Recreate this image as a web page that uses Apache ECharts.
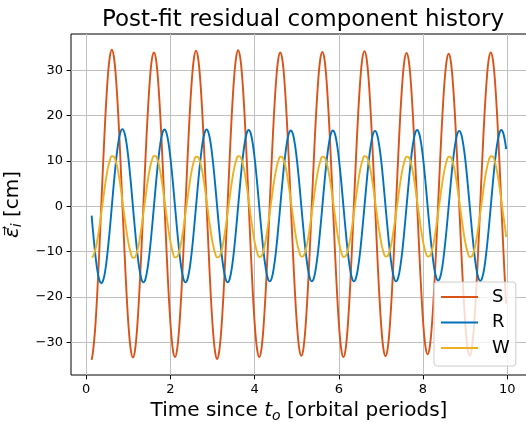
<!DOCTYPE html>
<html>
<head>
<meta charset="utf-8">
<script src="https://cdn.jsdelivr.net/npm/echarts@6/dist/echarts.min.js"></script>
<style>
html,body{margin:0;padding:0;background:#fff;}
#c{width:526px;height:423px;}
</style>
</head>
<body>
<div id="c"></div>
<script>
// Time since t_o [orbital periods]
const tData = [
0.13,
0.16,0.21,0.26,0.31,0.36,0.41,0.46,0.51,0.56,0.61,
0.66,0.71,0.76,0.81,0.86,0.91,0.96,1.01,1.06,1.11,
1.16,1.21,1.26,1.31,1.36,1.41,1.46,1.51,1.56,1.61,
1.66,1.71,1.76,1.81,1.86,1.91,1.96,2.01,2.06,2.11,
2.16,2.21,2.26,2.31,2.36,2.41,2.46,2.51,2.56,2.61,
2.66,2.71,2.76,2.81,2.86,2.91,2.96,3.01,3.06,3.11,
3.16,3.21,3.26,3.31,3.36,3.41,3.46,3.51,3.56,3.61,
3.66,3.71,3.76,3.81,3.86,3.91,3.96,4.01,4.06,4.11,
4.16,4.21,4.26,4.31,4.36,4.41,4.46,4.51,4.56,4.61,
4.66,4.71,4.76,4.81,4.86,4.91,4.96,5.01,5.06,5.11,
5.16,5.21,5.26,5.31,5.36,5.41,5.46,5.51,5.56,5.61,
5.66,5.71,5.76,5.81,5.86,5.91,5.96,6.01,6.06,6.11,
6.16,6.21,6.26,6.31,6.36,6.41,6.46,6.51,6.56,6.61,
6.66,6.71,6.76,6.81,6.86,6.91,6.96,7.01,7.06,7.11,
7.16,7.21,7.26,7.31,7.36,7.41,7.46,7.51,7.56,7.61,
7.66,7.71,7.76,7.81,7.86,7.91,7.96,8.01,8.06,8.11,
8.16,8.21,8.26,8.31,8.36,8.41,8.46,8.51,8.56,8.61,
8.66,8.71,8.76,8.81,8.86,8.91,8.96,9.01,9.06,9.11,
9.16,9.21,9.26,9.31,9.36,9.41,9.46,9.51,9.56,9.61,
9.66,9.71,9.76,9.81,9.86,9.91,9.96,9.975
];

// S component [cm]
const sData = [
-33.9,
-32.3,-27.5,-19.9,-10.3,0.3,10.8,20.4,28.0,32.8,34.5,
32.8,28.0,20.5,11.0,0.6,-9.9,-19.4,-26.9,-31.7,-33.4,
-31.8,-27.0,-19.5,-10.2,0.3,10.7,20.0,27.5,32.3,33.9,
32.3,27.5,20.1,10.7,0.3,-10.1,-19.5,-26.9,-31.7,-33.3,
-31.6,-26.8,-19.4,-9.9,0.5,10.9,20.4,27.8,32.6,34.3,
32.6,27.8,20.3,10.8,0.3,-10.2,-19.7,-27.2,-32.0,-33.7,
-32.0,-27.2,-19.7,-10.2,0.4,10.9,20.4,27.9,32.7,34.4,
32.7,27.9,20.5,11.0,0.6,-9.9,-19.4,-26.8,-31.6,-33.3,
-31.7,-26.9,-19.5,-10.1,0.3,10.7,20.1,27.5,32.3,33.9,
32.3,27.5,20.1,10.8,0.5,-9.9,-19.2,-26.6,-31.4,-33.0,
-31.4,-26.6,-19.2,-9.9,0.5,10.9,20.2,27.6,32.4,34.0,
32.4,27.6,20.1,10.8,0.4,-10.1,-19.4,-26.9,-31.7,-33.3,
-31.7,-26.9,-19.4,-10.0,0.5,10.9,20.3,27.8,32.6,34.2,
32.6,27.8,20.3,11.0,0.6,-9.9,-19.2,-26.7,-31.5,-33.1,
-31.5,-26.7,-19.3,-10.0,0.4,10.7,20.0,27.4,32.2,33.8,
32.2,27.5,20.1,10.8,0.6,-9.7,-19.0,-26.4,-31.1,-32.7,
-31.1,-26.4,-19.0,-9.8,0.5,10.7,19.9,27.3,32.0,33.6,
32.0,27.2,19.9,10.6,0.3,-10.0,-19.3,-26.6,-31.4,-33.0,
-31.4,-26.6,-19.2,-9.9,0.5,10.8,20.1,27.5,32.3,33.9,
32.3,27.5,20.1,10.8,0.5,-9.9,-19.2,-21.5
];

// R component [cm]
const rData = [
-2.1,
-5.3,-10.0,-13.8,-16.2,-17.0,-16.2,-13.8,-10.0,-5.3,0.0,
5.3,10.0,13.8,16.2,17.0,16.2,13.8,10.0,5.3,0.0,
-5.2,-9.9,-13.6,-16.0,-16.8,-16.0,-13.6,-9.9,-5.2,0.0,
5.2,9.9,13.7,16.1,16.9,16.1,13.7,9.9,5.2,0.0,
-5.2,-9.9,-13.6,-16.0,-16.8,-16.0,-13.6,-9.9,-5.2,0.0,
5.2,9.9,13.7,16.1,16.9,16.1,13.7,9.9,5.2,0.0,
-5.2,-9.9,-13.6,-16.0,-16.8,-16.0,-13.6,-9.9,-5.2,0.0,
5.2,9.9,13.6,16.0,16.8,16.0,13.6,9.9,5.2,0.0,
-5.1,-9.8,-13.4,-15.8,-16.6,-15.8,-13.4,-9.8,-5.1,0.0,
5.2,9.8,13.5,15.9,16.7,15.9,13.5,9.8,5.2,0.0,
-5.1,-9.8,-13.4,-15.8,-16.6,-15.8,-13.4,-9.8,-5.1,0.0,
5.2,9.8,13.5,15.9,16.7,15.9,13.5,9.8,5.2,0.0,
-5.1,-9.8,-13.4,-15.8,-16.6,-15.8,-13.4,-9.8,-5.1,0.0,
5.1,9.8,13.4,15.8,16.6,15.8,13.4,9.8,5.1,0.0,
-5.1,-9.8,-13.4,-15.8,-16.6,-15.8,-13.4,-9.8,-5.1,0.0,
5.2,9.9,13.6,16.0,16.8,16.0,13.6,9.9,5.2,0.0,
-5.1,-9.6,-13.3,-15.6,-16.4,-15.6,-13.3,-9.6,-5.1,0.0,
5.1,9.8,13.4,15.8,16.6,15.8,13.4,9.8,5.1,0.0,
-5.1,-9.7,-13.4,-15.7,-16.5,-15.7,-13.4,-9.7,-5.1,0.0,
5.2,9.9,13.6,16.0,16.8,16.0,13.6,12.6
];

// W component [cm]
const wData = [
-11.3,
-11.1,-9.9,-7.8,-4.9,-1.5,2.0,5.3,8.1,10.0,11.0,
10.9,9.7,7.6,4.7,1.2,-2.3,-5.6,-8.4,-10.4,-11.4,
-11.3,-10.0,-7.9,-4.9,-1.5,2.0,5.4,8.2,10.1,11.1,
11.0,9.8,7.6,4.7,1.3,-2.2,-5.5,-8.3,-10.3,-11.3,
-11.2,-10.0,-7.8,-4.9,-1.5,1.9,5.2,8.0,9.9,10.9,
10.8,9.6,7.5,4.6,1.2,-2.3,-5.6,-8.4,-10.3,-11.3,
-11.2,-10.0,-7.8,-4.9,-1.4,2.0,5.3,8.1,10.0,11.0,
10.9,9.7,7.6,4.7,1.3,-2.2,-5.5,-8.3,-10.2,-11.2,
-11.1,-9.9,-7.7,-4.8,-1.4,2.0,5.3,8.0,9.9,10.9,
10.8,9.6,7.5,4.6,1.2,-2.2,-5.5,-8.2,-10.1,-11.1,
-11.0,-9.8,-7.7,-4.8,-1.4,2.0,5.3,8.0,9.9,10.9,
10.8,9.6,7.5,4.7,1.3,-2.2,-5.5,-8.3,-10.2,-11.2,
-11.1,-9.9,-7.8,-4.9,-1.5,2.0,5.3,8.1,10.0,11.0,
10.9,9.7,7.6,4.7,1.3,-2.2,-5.4,-8.2,-10.1,-11.1,
-11.0,-9.8,-7.7,-4.8,-1.5,1.9,5.2,8.0,9.9,10.9,
10.8,9.6,7.5,4.6,1.2,-2.2,-5.5,-8.2,-10.1,-11.1,
-11.0,-9.8,-7.7,-4.8,-1.4,2.0,5.3,8.0,9.9,10.9,
10.8,9.6,7.5,4.6,1.2,-2.2,-5.5,-8.3,-10.2,-11.2,
-11.1,-9.9,-7.8,-4.9,-1.5,1.9,5.3,8.1,10.0,11.0,
10.9,9.7,7.6,4.7,1.3,-2.2,-5.5,-6.8
];

const seriesNames = ['S', 'R', 'W'];
const xTicks = [0, 2, 4, 6, 8, 10];
const yTicks = [-30, -20, -10, 0, 10, 20, 30];

const colors = ['#D95319', '#0072BD', '#EDB120'];
const FONT = 'DejaVu Sans';

function pairs(ys) { return tData.map((t, i) => [t, ys[i]]); }
const allY = [sData, rData, wData];

const chart = echarts.init(document.getElementById('c'), null, {renderer: 'canvas'});
const option = {
  animation: false,
  backgroundColor: '#fff',
  textStyle: {fontFamily: FONT},
  title: {
    text: 'Post-fit residual component history',
    left: 298, top: 4, textAlign: 'center',
    textStyle: {fontFamily: FONT, fontSize: 23, fontWeight: 'normal', color: '#000'}
  },
  grid: {left: 71, right: -1, top: 34, bottom: 48, show: true, borderColor: '#000', borderWidth: 1,
    backgroundColor: 'transparent', containLabel: false, outerBoundsMode: 'none'},
  legend: {
    orient: 'vertical', left: 434, top: 282,
    data: seriesNames,
    icon: 'rect', itemWidth: 37, itemHeight: 2, itemGap: 5.5,
    padding: [5, 6, 8, 7],
    backgroundColor: 'rgba(255,255,255,0.8)', borderColor: '#cccccc', borderWidth: 1, borderRadius: 3,
    textStyle: {fontFamily: FONT, fontSize: 18, color: '#000', lineHeight: 20, padding: [0, 0, 0, 9]}
  },
  xAxis: {
    type: 'value', min: -0.36, max: 10.47,
    name: '{a|Time since }{i|t}{s|o}{a| [orbital periods]}',
    nameLocation: 'middle', nameGap: 24,
    nameTextStyle: {
      rich: {
        a: {fontFamily: FONT, fontSize: 20, color: '#000', lineHeight: 24},
        i: {fontFamily: FONT, fontSize: 20, fontStyle: 'italic', color: '#000', lineHeight: 24},
        s: {fontFamily: FONT, fontSize: 14, fontStyle: 'italic', color: '#000', lineHeight: 14, verticalAlign: 'bottom'}
      }
    },
    axisLine: {show: false, onZero: false},
    axisTick: {show: true, inside: false, length: 4.4, lineStyle: {color: '#000', width: 1}, customValues: xTicks},
    axisLabel: {fontFamily: FONT, fontSize: 13, color: '#000', margin: 8, customValues: xTicks},
    splitLine: {show: true, lineStyle: {color: '#c0c0c0', width: 1}}
  },
  yAxis: {
    type: 'value', min: -37.24, max: 37.97,
    name: '{e|ε\u20D7}{s|i}{a| [cm]}',
    nameLocation: 'middle', nameRotate: 90, nameGap: 38,
    nameTextStyle: {
      rich: {
        a: {fontFamily: FONT, fontSize: 20, color: '#000', lineHeight: 24},
        e: {fontFamily: FONT, fontSize: 20, fontStyle: 'italic', color: '#000', lineHeight: 24},
        s: {fontFamily: FONT, fontSize: 14, fontStyle: 'italic', color: '#000', lineHeight: 14, verticalAlign: 'bottom'}
      }
    },
    axisLine: {show: false, onZero: false},
    axisTick: {show: true, inside: false, length: 4.4, lineStyle: {color: '#000', width: 1}, customValues: yTicks},
    axisLabel: {fontFamily: FONT, fontSize: 13, color: '#000', margin: 8, customValues: yTicks,
      formatter: v => (v < 0 ? '\u2212' + Math.abs(v) : String(v))},
    splitLine: {show: true, lineStyle: {color: '#c0c0c0', width: 1}}
  },
  series: seriesNames.map((n, k) => ({
    name: n, type: 'line', data: pairs(allY[k]),
    showSymbol: false, smooth: 0.35,
    lineStyle: {color: colors[k], width: 1.9},
    itemStyle: {color: colors[k]},
    z: 2 + k
  }))
};
chart.setOption(option);
</script>
</body>
</html>
